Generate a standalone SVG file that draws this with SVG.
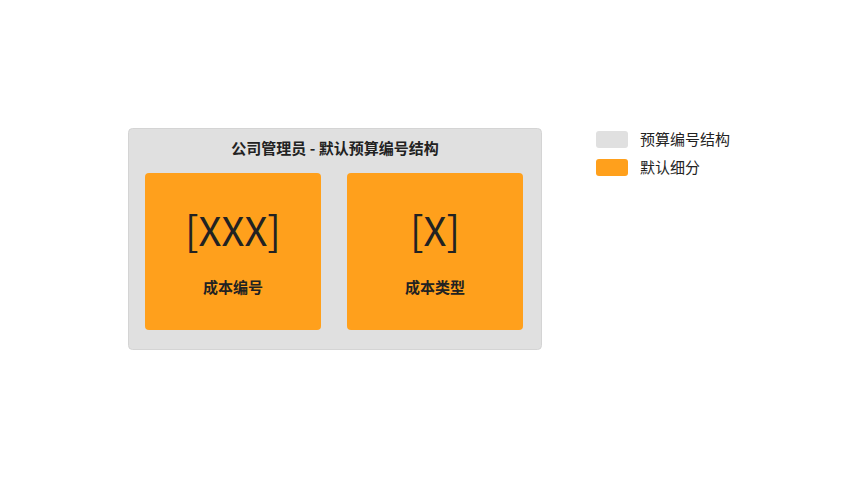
<svg xmlns="http://www.w3.org/2000/svg" width="862" height="478" viewBox="0 0 862 478">
<style>
.t{font-family:"Noto Sans CJK SC","Noto Sans",sans-serif;fill:#222}
.b{fill:#ffa01c}
</style>
<rect width="862" height="478" fill="#fff"/>
<g id="outer">
<rect x="128.5" y="128.5" width="413" height="221" rx="4" fill="#e0e0e0" stroke="#d4d4d4"/>
<text class="t" x="335" y="154" font-size="15" font-weight="bold" text-anchor="middle">公司管理员 - 默认预算编号结构</text>
</g>
<g id="n1">
<rect class="b" x="145" y="173" width="176" height="157" rx="4"/>
<text class="t" x="233" y="246" font-size="40" text-anchor="middle">[XXX]</text>
<text class="t" x="233" y="293" font-size="15" font-weight="bold" text-anchor="middle">成本编号</text>
</g>
<g id="n2">
<rect class="b" x="347" y="173" width="176" height="157" rx="4"/>
<text class="t" x="435" y="246" font-size="40" text-anchor="middle">[X]</text>
<text class="t" x="435" y="293" font-size="15" font-weight="bold" text-anchor="middle">成本类型</text>
</g>
<g id="legend">
<rect x="596" y="131" width="32" height="17" rx="3" fill="#e0e0e0"/>
<text class="t" x="640" y="145" font-size="15">预算编号结构</text>
<rect x="596" y="159" width="32" height="17" rx="3" class="b"/>
<text class="t" x="640" y="173" font-size="15">默认细分</text>
</g>
<g id="connectors"/>
</svg>
